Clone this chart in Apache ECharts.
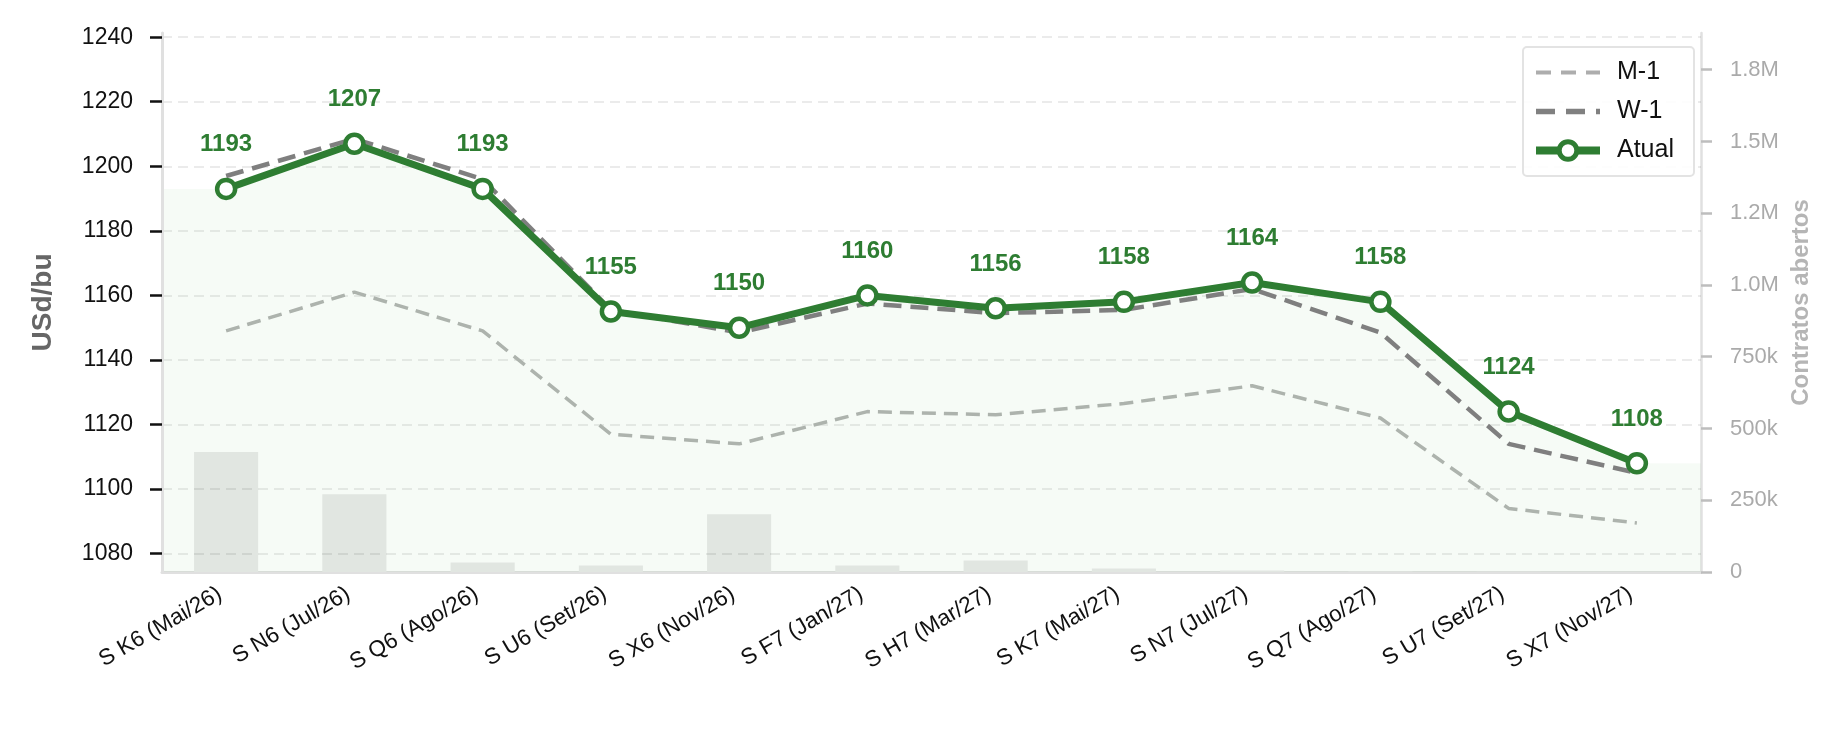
<!DOCTYPE html>
<html>
<head>
<meta charset="utf-8">
<script src="https://cdn.jsdelivr.net/npm/echarts@6/dist/echarts.min.js"></script>
<style>html,body{margin:0;padding:0;background:#fff}#chart{width:1846px;height:734px}</style>
</head>
<body>
<div id="chart"></div>
<script>
const categories = ['S K6 (Mai/26)','S N6 (Jul/26)','S Q6 (Ago/26)','S U6 (Set/26)','S X6 (Nov/26)','S F7 (Jan/27)','S H7 (Mar/27)','S K7 (Mai/27)','S N7 (Jul/27)','S Q7 (Ago/27)','S U7 (Set/27)','S X7 (Nov/27)'];
const atual = [1193,1207,1193,1155,1150,1160,1156,1158,1164,1158,1124,1108];
const w1 = [1197,1208.5,1196,1155.5,1148.5,1157.5,1154.5,1155.5,1162,1148.5,1114,1105];
const m1 = [1149,1161,1149,1117,1114,1124,1123,1126.5,1132,1122,1094,1089.5];
const openInterest = [418000,271000,33000,23000,201000,23000,40000,12000,5000,1500,500,200];
const priceTicks = [1080,1100,1120,1140,1160,1180,1200,1220,1240];
const oiTicks = [0,250000,500000,750000,1000000,1250000,1500000,1750000];
const oiTickLabels = ['0','250k','500k','750k','1.0M','1.2M','1.5M','1.8M'];

const FONT = 'Liberation Sans, Arial, sans-serif';
const GREEN = '#2e7d32';

// fill under Atual extended flat to the plot edges
const fillData = [[-0.5, atual[0]]].concat(atual.map((v, i) => [i, v]), [[categories.length - 0.5, atual[atual.length - 1]]]);

const chart = echarts.init(document.getElementById('chart'), null, {renderer: 'canvas'});
chart.setOption({
  animation: false,
  textStyle: {fontFamily: FONT},
  grid: {left: 162, right: 145, top: 33, bottom: 162},
  legend: {
    left: 1523, top: 47, orient: 'vertical',
    itemWidth: 64, itemHeight: 22, itemGap: 14,
    padding: [13, 20, 13, 9],
    borderColor: '#e3e3e3', borderWidth: 2, borderRadius: 4,
    backgroundColor: 'rgba(255,255,255,0.9)',
    textStyle: {fontSize: 25, color: '#111', fontFamily: FONT, padding: [0, 0, 0, 12]},
    data: [
      {name: 'M-1', itemStyle: {opacity: 0}, lineStyle: {width: 4, type: [15, 10], color: '#adadad'}},
      {name: 'W-1', itemStyle: {opacity: 0}, lineStyle: {width: 5.5, type: [19, 11], color: '#808080'}},
      {name: 'Atual', lineStyle: {width: 8, color: GREEN}, itemStyle: {color: '#fff', borderColor: GREEN, borderWidth: 5}}
    ]
  },
  xAxis: [{
    type: 'category', data: categories, boundaryGap: true,
    axisLine: {onZero: false, lineStyle: {color: '#e0e0e0', width: 3}},
    axisTick: {alignWithLabel: true, length: 13, lineStyle: {color: '#111', width: 2.5}},
    axisLabel: {rotate: 30, margin: 17, fontSize: 22.5, color: '#111', interval: 0, padding: [0, 7, 0, 0]},
    splitLine: {show: false}
  }, {
    type: 'value', min: -0.5, max: categories.length - 0.5, show: false,
    axisLine: {onZero: false}
  }],
  yAxis: [{
    type: 'value', min: 1074.3, max: 1241.3, position: 'left', z: 2,
    name: 'USd/bu', nameLocation: 'middle', nameRotate: 90, nameGap: 105,
    nameTextStyle: {fontSize: 28, fontWeight: 'bold', color: '#666'},
    axisLine: {show: true, onZero: false, lineStyle: {color: '#e0e0e0', width: 3}},
    axisTick: {show: true, length: 12, customValues: priceTicks, lineStyle: {color: '#111', width: 2.5}},
    axisLabel: {fontSize: 23, color: '#111', margin: 29, customValues: priceTicks, formatter: v => String(v)},
    splitLine: {show: true, lineStyle: {color: 'rgba(0,0,0,0.08)', width: 2, type: [10, 6]}}
  }, {
    type: 'value', min: 0, max: 1878000, position: 'right',
    name: 'Contratos abertos', nameLocation: 'middle', nameRotate: 90, nameGap: 88,
    nameTextStyle: {fontSize: 24, fontWeight: 'bold', color: '#b5b5b5'},
    axisLine: {show: true, onZero: false, lineStyle: {color: '#e0e0e0', width: 2.5}},
    axisTick: {show: true, length: 11, customValues: oiTicks, lineStyle: {color: '#bdbdbd', width: 2.5}},
    axisLabel: {fontSize: 22, color: '#aaaaaa', margin: 29, customValues: oiTicks,
      formatter: v => { const i = oiTicks.indexOf(v); return i >= 0 ? oiTickLabels[i] : ''; }},
    splitLine: {show: false}
  }],
  series: [{
    name: 'fill', type: 'line', xAxisIndex: 1, yAxisIndex: 0, data: fillData,
    symbol: 'none', silent: true, z: 1,
    lineStyle: {width: 0},
    areaStyle: {color: 'rgba(76,175,80,0.07)', origin: 'start'}
  }, {
    name: 'Contratos abertos', type: 'bar', xAxisIndex: 0, yAxisIndex: 1, data: openInterest,
    barWidth: '50%', itemStyle: {color: '#e1e6e1'}, z: 1, silent: true
  }, {
    name: 'M-1', type: 'line', data: m1, symbol: 'none', z: 3,
    lineStyle: {color: '#adb3ad', width: 3.5, type: [14, 8]},
    itemStyle: {color: '#adb3ad'}
  }, {
    name: 'W-1', type: 'line', data: w1, symbol: 'none', z: 3,
    lineStyle: {color: '#7f7f7f', width: 4.5, type: [18, 9]},
    itemStyle: {color: '#7f7f7f'}
  }, {
    name: 'Atual', type: 'line', data: atual, z: 4,
    symbol: 'circle', symbolSize: 18,
    lineStyle: {color: GREEN, width: 7},
    itemStyle: {color: '#ffffff', borderColor: GREEN, borderWidth: 4.5},
    label: {show: true, position: 'top', distance: 21, color: GREEN, fontWeight: 'bold', fontSize: 24}
  }]
});
</script>
</body>
</html>
